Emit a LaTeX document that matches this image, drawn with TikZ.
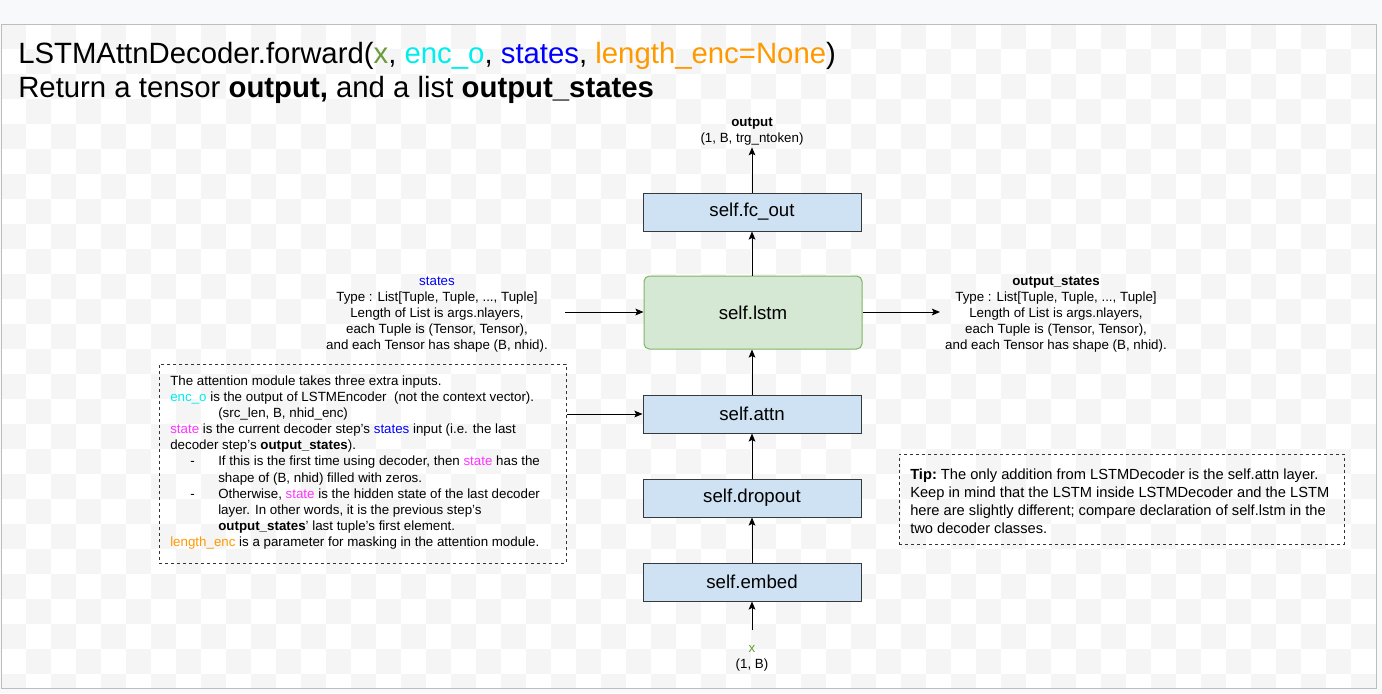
\documentclass[tikz,border=0pt]{standalone}
\usepackage{fontspec}
\setmainfont{Liberation Sans}
\usetikzlibrary{arrows.meta}
\definecolor{bgout}{HTML}{F8F9FA}
\definecolor{checker}{HTML}{F5F5F5}
\definecolor{framec}{HTML}{BDBDBD}
\definecolor{blkfill}{HTML}{CFE2F3}
\definecolor{blkdraw}{HTML}{36393D}
\definecolor{grnfill}{HTML}{D5E8D4}
\definecolor{grndraw}{HTML}{82B366}
\definecolor{cblue}{HTML}{0000FF}
\definecolor{ccyan}{HTML}{00EEEE}
\definecolor{cgreen}{HTML}{6A9A3A}
\definecolor{corange}{HTML}{FF9900}
\definecolor{cmag}{HTML}{FF33FF}
\definecolor{dashc}{HTML}{333333}
\tikzset{
  blk/.style={draw=blkdraw, fill=blkfill, line width=0.75pt, minimum width=163.5pt, minimum height=28.5pt, inner sep=0pt, font=\fontsize{14}{16}\selectfont},
  lstmbox/.style={draw=grndraw, fill=grnfill, line width=0.75pt, rounded corners=4pt, minimum width=163.5pt, minimum height=54.75pt, inner sep=0pt, font=\fontsize{14}{16}\selectfont},
  lbl/.style={align=center, inner sep=1pt, font=\fontsize{10}{12}\selectfont},
  arr/.style={-{Stealth[length=6pt,width=5pt,inset=1.2pt]}, line width=0.75pt, black},
  dbox/.style={draw=dashc, line width=0.75pt, dash pattern=on 2.25pt off 2.25pt, inner sep=0pt},
  ttl/.style={anchor=base west, inner sep=0pt, font=\fontsize{22}{25.5}\selectfont}
}
\begin{document}
\begin{tikzpicture}[x=0.75pt,y=-0.75pt]
\useasboundingbox (0,0) rectangle (1382,693);
\fill[bgout] (0,0) rectangle (1382,693);
\fill[white] (1,24) rectangle (1376,688);
\begin{scope}
\clip (1,24) rectangle (1376,688);
\foreach \i in {0,...,54} {
  \foreach \j in {0,...,26} {
    \pgfmathtruncatemacro\kk{mod(\i+\j,2)}
    \ifnum\kk=0 \fill[checker] (1+25*\i,24+25*\j) rectangle ++(25,25); \fi
  }
}
\end{scope}
\draw[framec, line width=0.75pt] (1,24) rectangle (1376,688);

% title
\node[ttl] (t1) at (18,63) {LSTMAttnDecoder.forward(\textcolor{cgreen}{x}, \textcolor{ccyan}{enc\_o}, \textcolor{cblue}{states}, \textcolor{corange}{length\_enc=None})};
\node[ttl] (t2) at (18,97) {Return a tensor \textbf{output,} and a list \textbf{output\_states}};

% blocks
\node[blk] (fc) at (752,212) {self.fc\_out};
\node[lstmbox] (lstm) at (753,312.5) {self.lstm};
\node[blk] (attn) at (752,414) {self.attn};
\node[blk] (drop) at (752,498) {self.dropout};
\node[blk] (emb) at (752,582) {self.embed};

% labels
\node[lbl] (out) at (752,132) {\textbf{output}\\(1, B, trg\_ntoken)};
\node[lbl] (xin) at (752,658) {\textcolor{cgreen}{x}\\(1, B)};
\node[lbl] (st) at (437,315) {\textcolor{cblue}{states}\\Type : List[Tuple, Tuple, ..., Tuple]\\Length of List is args.nlayers,\\each Tuple is (Tensor, Tensor),\\and each Tensor has shape (B, nhid).};
\node[lbl] (ost) at (1056,315) {\textbf{output\_states}\\Type : List[Tuple, Tuple, ..., Tuple]\\Length of List is args.nlayers,\\each Tuple is (Tensor, Tensor),\\and each Tensor has shape (B, nhid).};
\coordinate (sin) at (565,312);
\coordinate (sout) at (940,312);
\coordinate (xtail) at (752,630);

% connectors
\draw[arr] (xtail) -- (emb.south);
\draw[arr] (emb.north) -- (drop.south);
\draw[arr] (drop.north) -- (attn.south);
\draw[arr] (attn.north) -- (lstm.south -| attn.north);
\draw[arr] (lstm.north -| fc.south) -- (fc.south);
\draw[arr] (fc.north) -- (out.south);
\draw[arr] (sin) -- (lstm.west |- sin);
\draw[arr] (lstm.east |- sout) -- (sout);

% attention note
\node[dbox, minimum width=305.25pt, minimum height=149.25pt] (note) at (362.5,463.5) {};
\node[anchor=west, align=left, inner sep=0pt, font=\fontsize{10}{12.1}\selectfont] (notetext) at (170,462.5) {The attention module takes three extra inputs.\\
\textcolor{ccyan}{enc\_o} is the output of LSTMEncoder~ (not the context vector).\\
\hspace*{36pt}(src\_len, B, nhid\_enc)\\
\textcolor{cmag}{state} is the current decoder step's \textcolor{cblue}{states} input (i.e. the last\\
decoder step's \textbf{output\_states}).\\
\makebox[36pt][l]{\hspace*{15pt}-}If this is the first time using decoder, then \textcolor{cmag}{state} has the\\
\hspace*{36pt}shape of (B, nhid) filled with zeros.\\
\makebox[36pt][l]{\hspace*{15pt}-}Otherwise, \textcolor{cmag}{state} is the hidden state of the last decoder\\
\hspace*{36pt}layer. In other words, it is the previous step's\\
\hspace*{36pt}\textbf{output\_states}' last tuple's first element.\\
\textcolor{corange}{length\_enc} is a parameter for masking in the attention module.};
\draw[arr] (note.east |- attn.west) -- (attn.west);

% tip
\node[dbox, minimum width=333.75pt, minimum height=67.5pt] (tip) at (1121.5,499) {};
\node[anchor=west, align=left, inner sep=0pt, font=\fontsize{11}{13.5}\selectfont] (tiptext) at (910,501) {\textbf{Tip:}~The only addition from LSTMDecoder is the self.attn layer.\\
Keep in mind that the LSTM inside LSTMDecoder and the LSTM\\
here are slightly different; compare declaration of self.lstm in the\\
two decoder classes.};
\end{tikzpicture}
\end{document}
